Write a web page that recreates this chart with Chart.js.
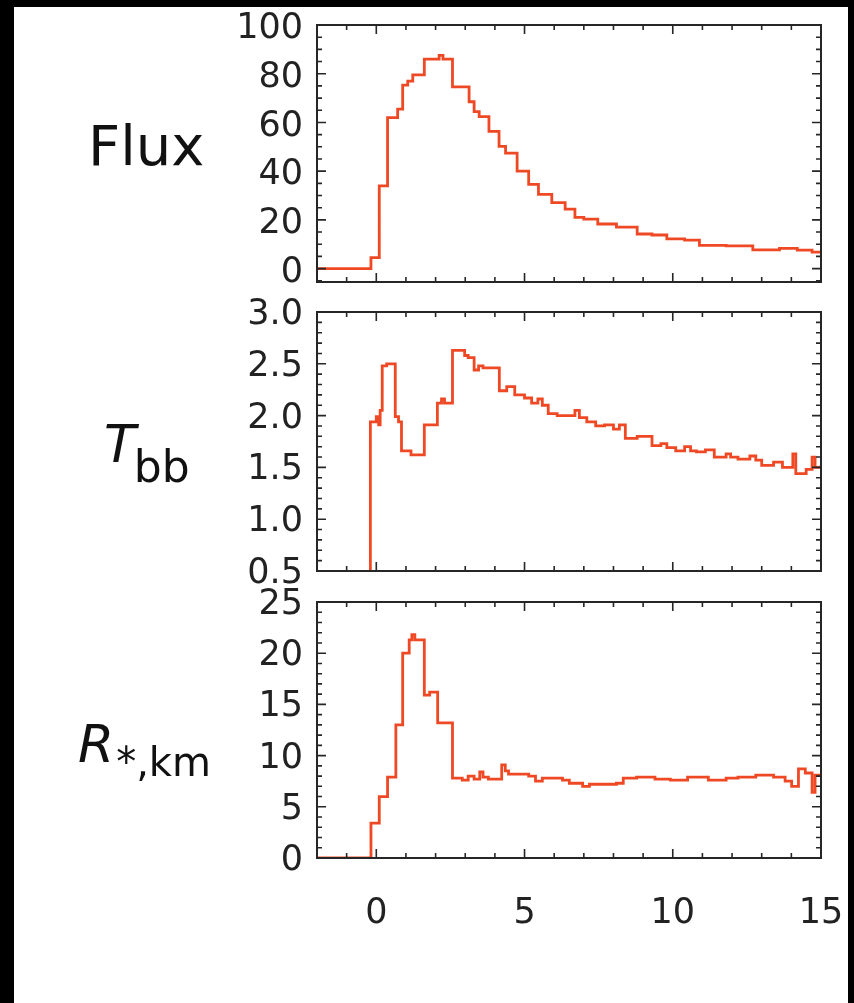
<!DOCTYPE html>
<html>
<head>
<meta charset="utf-8">
<script src="https://cdn.jsdelivr.net/npm/chart.js@4.4.0/dist/chart.umd.min.js"></script>
<style>
  html, body { margin: 0; padding: 0; background: #000; }
  body { width: 854px; height: 1003px; position: relative; overflow: hidden; }
  #paper { position: absolute; left: 14px; top: 7px; width: 834px; height: 996px; background: #fff; }
  canvas { position: absolute; left: 0; }
</style>
</head>
<body>
<div id="paper"></div>
<canvas id="flux" width="854" height="300" style="top:0px"></canvas>
<canvas id="temp" width="854" height="310" style="top:280px"></canvas>
<canvas id="rad" width="854" height="433" style="top:570px"></canvas>
<script>
// time axis (s)
const timeTicks = [0, 5, 10, 15];
const timeTickLabels = ['0', '5', '10', '15'];

// Flux panel
const fluxTime = [-2, -0.18, 0.1, 0.38, 0.72, 0.89, 1.06, 1.23, 1.62, 2.12, 2.25, 2.57, 3.13, 3.3, 3.47,
  3.8, 4.14, 4.36, 4.75, 5.14, 5.47, 5.92, 6.37, 6.7, 7.0, 7.47, 8.1, 8.8, 9.3, 9.8, 10.4, 10.9,
  11.8, 12.7, 13.6, 14.2, 14.7, 15];
const fluxValues = [0, 4.5, 34, 62, 65.5, 75.3, 77, 79.5, 86, 87.5, 86, 74.6, 68.5, 64.4, 62.4,
  56.3, 50.2, 47.4, 40, 34.6, 30.5, 27.1, 24.4, 21, 20.3, 18.3, 17, 14.2, 13.8, 12.2, 11.7, 9.5,
  9.3, 7.7, 8.3, 7.6, 6.8, 6.8];
const fluxTicks = [0, 20, 40, 60, 80, 100];
const fluxTickLabels = ['0', '20', '40', '60', '80', '100'];

// Blackbody temperature panel (keV)
const tempTime = [-2, -0.2, 0.0, 0.08, 0.13, 0.2, 0.35, 0.64, 0.75, 0.85, 1.17, 1.62, 2.06, 2.2, 2.3,
  2.57, 2.98, 3.1, 3.3, 3.45, 3.6, 4.15, 4.4, 4.67, 5.0, 5.24, 5.45, 5.6, 5.8, 6.1, 6.5, 6.7, 6.85,
  7.1, 7.4, 7.7, 8.0, 8.2, 8.4, 8.8, 9.3, 9.6, 9.8, 10.1, 10.4, 10.6, 10.8, 11.1, 11.4, 11.8, 11.95,
  12.2, 12.6, 12.8, 13.0, 13.4, 13.7, 14.05, 14.15, 14.5, 14.7, 14.8, 15];
const tempValues = [0, 1.94, 1.99, 1.91, 2.05, 2.48, 2.5, 1.99, 1.94, 1.66, 1.62, 1.91, 2.12, 2.16, 2.12,
  2.63, 2.58, 2.56, 2.44, 2.48, 2.46, 2.24, 2.28, 2.2, 2.17, 2.12, 2.16, 2.1, 2.02, 2.0, 2.0, 2.05, 1.98,
  1.94, 1.9, 1.91, 1.87, 1.91, 1.78, 1.8, 1.71, 1.73, 1.69, 1.66, 1.7, 1.66, 1.65, 1.67, 1.6, 1.63, 1.6,
  1.58, 1.61, 1.57, 1.52, 1.55, 1.5, 1.63, 1.44, 1.48, 1.6, 1.5, 1.52];
const tempTicks = [0.5, 1.0, 1.5, 2.0, 2.5, 3.0];
const tempTickLabels = ['0.5', '1.0', '1.5', '2.0', '2.5', '3.0'];

// Radius panel (km)
const radTime = [-2, -0.18, 0.1, 0.38, 0.66, 0.89, 1.11, 1.2, 1.3, 1.62, 1.8, 2.07, 2.57, 2.9, 3.1, 3.3,
  3.49, 3.6, 3.78, 4.23, 4.35, 4.46, 5.14, 5.37, 5.6, 6.28, 6.51, 6.96, 7.19, 8.1, 8.33, 8.78, 9.4,
  9.92, 10.5, 11.2, 11.8, 12.2, 12.8, 13.4, 13.79, 14.01, 14.24, 14.47, 14.7, 14.8, 15];
const radValues = [0, 3.4, 6.0, 7.9, 13.0, 20.0, 21.3, 21.8, 21.3, 15.9, 16.2, 13.2, 7.8, 7.6, 8.0, 7.7,
  8.4, 7.9, 7.7, 9.1, 8.5, 8.2, 8.0, 7.5, 7.8, 7.6, 7.3, 7.0, 7.2, 7.3, 7.8, 7.9, 7.7,
  7.6, 7.9, 7.6, 7.8, 7.9, 8.1, 7.9, 7.5, 7.0, 8.7, 8.3, 6.4, 8.1, 8.0];
const radTicks = [0, 5, 10, 15, 20, 25];
const radTickLabels = ['0', '5', '10', '15', '20', '25'];

const lineColor = '#ef4824';
const axisColor = '#262626';
const tickFont = { family: 'DejaVu Sans', size: 35 };

// IDL-style box with inward ticks on all four sides, plus the rich y title
const frame = {
  id: 'frame',
  afterDatasetsDraw(chart, args, opts) {
    const { ctx, chartArea: a } = chart;
    const xs = chart.scales.x, ys = chart.scales.y;
    ctx.save();
    ctx.strokeStyle = axisColor;
    ctx.lineWidth = 1.6;
    ctx.beginPath();
    for (let v = Math.ceil(xs.min); v <= xs.max; v += opts.xMinor) {
      const len = v % 5 === 0 ? 9 : 5;
      const p = xs.getPixelForValue(v);
      ctx.moveTo(p, a.bottom); ctx.lineTo(p, a.bottom - len);
      ctx.moveTo(p, a.top); ctx.lineTo(p, a.top + len);
    }
    const steps = Math.round((ys.max - ys.min) / opts.yMinor) + 2;
    const start = Math.ceil(ys.min / opts.yMinor - 1e-6);
    for (let k = 0; k < steps; k++) {
      const v = (start + k) * opts.yMinor;
      if (v > ys.max + 1e-6) break;
      const major = opts.yMajor.some(m => Math.abs(m - v) < 1e-6);
      const len = major ? 9 : 5;
      const p = ys.getPixelForValue(v);
      ctx.moveTo(a.left, p); ctx.lineTo(a.left + len, p);
      ctx.moveTo(a.right, p); ctx.lineTo(a.right - len, p);
    }
    ctx.stroke();
    ctx.lineWidth = 2;
    ctx.strokeRect(a.left, a.top, a.right - a.left, a.bottom - a.top);

    // title pieces
    ctx.fillStyle = '#111';
    ctx.textBaseline = 'alphabetic';
    let x = opts.titleX;
    opts.title.forEach(part => {
      ctx.font = part.font;
      ctx.fillText(part.text, x, opts.titleY + (part.dy || 0));
      x += ctx.measureText(part.text).width + (part.gap || 0);
    });
    ctx.restore();
  }
};

function yAxis(min, max, ticks, labels, offset) {
  return {
    type: 'linear', min, max,
    afterFit: s => { s.width = 317; s.paddingTop = 0; s.paddingBottom = 0; },
    afterBuildTicks: s => { s.ticks = ticks.map(v => ({ value: v })); },
    grid: { display: false, drawTicks: false },
    border: { display: false },
    ticks: {
      padding: 14, color: '#222', font: tickFont, autoSkip: false, labelOffset: offset,
      callback: (v, i) => labels[i]
    }
  };
}

function hiddenX() {
  return { type: 'linear', min: -2, max: 15, display: false };
}

function makePanel(id, time, values, y, x, padding, frameOpts) {
  new Chart(document.getElementById(id), {
    type: 'line',
    data: {
      datasets: [{
        data: time.map((t, i) => ({ x: t, y: values[i] })),
        stepped: 'before',
        borderColor: lineColor,
        borderWidth: 2.8,
        pointRadius: 0,
        fill: false
      }]
    },
    options: {
      responsive: false,
      animation: false,
      devicePixelRatio: 1,
      layout: { autoPadding: false, padding },
      scales: { x, y },
      plugins: { legend: { display: false }, tooltip: { enabled: false }, frame: frameOpts }
    },
    plugins: [frame]
  });
}

makePanel('flux', fluxTime, fluxValues,
  yAxis(-5.5, 100, fluxTicks, fluxTickLabels, 4),
  hiddenX(),
  { left: 0, right: 33, top: 25, bottom: 18 },
  { xMinor: 1, yMinor: 5, yMajor: fluxTicks, titleX: 88, titleY: 165,
    title: [{ text: 'Flux', font: '56px "DejaVu Sans"' }] });

makePanel('temp', tempTime, tempValues,
  yAxis(0.5, 3.0, tempTicks, tempTickLabels, 3),
  hiddenX(),
  { left: 0, right: 33, top: 32, bottom: 19 },
  { xMinor: 1, yMinor: 0.1, yMajor: tempTicks, titleX: 104, titleY: 182,
    title: [{ text: 'T', font: 'italic 52px "DejaVu Sans"', gap: -2 },
            { text: 'bb', font: '44px "DejaVu Sans"', dy: 20 }] });

makePanel('rad', radTime, radValues,
  yAxis(0, 25, radTicks, radTickLabels, 3),
  {
    type: 'linear', min: -2, max: 15,
    afterFit: s => { s.height = 145; s.paddingLeft = 0; s.paddingRight = 0; },
    afterBuildTicks: s => { s.ticks = timeTicks.map(v => ({ value: v })); },
    grid: { display: false, drawTicks: false },
    border: { display: false },
    ticks: { padding: 35, color: '#222', font: tickFont, autoSkip: false, maxRotation: 0,
      callback: (v, i) => timeTickLabels[i] }
  },
  { left: 0, right: 33, top: 32, bottom: 0 },
  { xMinor: 1, yMinor: 1, yMajor: radTicks, titleX: 78, titleY: 192,
    title: [{ text: 'R', font: 'italic 52px "DejaVu Sans"', gap: 2 },
            { text: '*,km', font: '40px "DejaVu Sans"', dy: 14 }] });
</script>
</body>
</html>
